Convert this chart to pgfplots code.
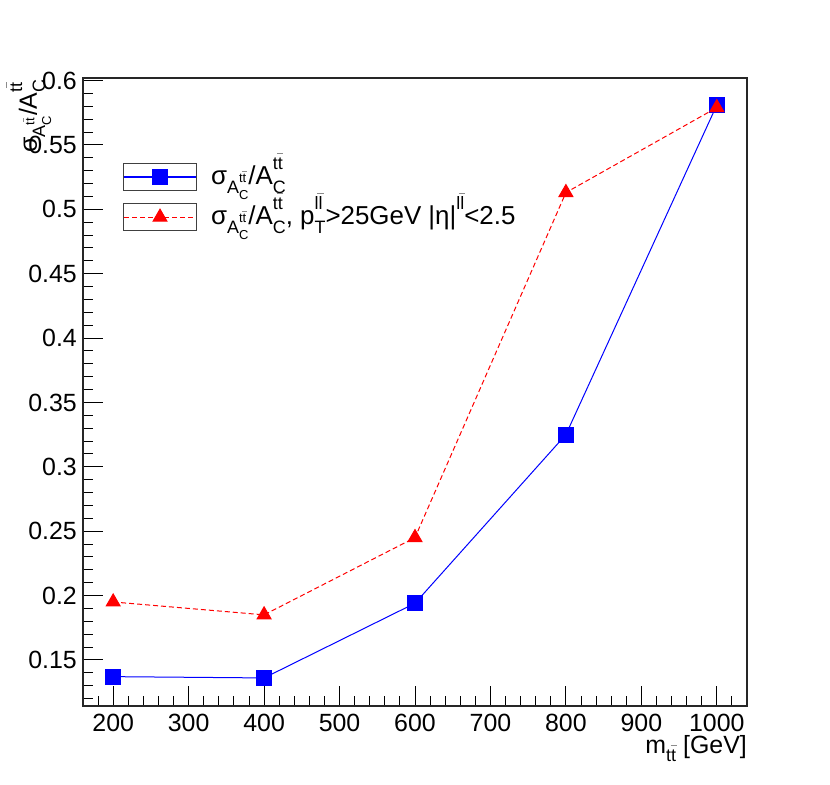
\documentclass[border=0pt]{standalone}
\usepackage{fontspec}
\setmainfont{Liberation Sans}
\usepackage{pgfplots}
\pgfplotsset{compat=1.18}
\newcommand\ovl[1]{{\setbox4\hbox{#1}\rlap{\hbox to\wd4{\hss\raise0.85em\hbox{\color{black!45}\vrule width 0.35em height 0.07em depth 0pt}\hss}}\box4}}
\newcommand\stk[3]{{%
 \setbox0\hbox{\fontsize{#1}{#1}\selectfont #2}%
 \setbox2\hbox{\fontsize{#1}{#1}\selectfont #3}%
 \dimen0=\wd0 \ifdim\wd2>\dimen0 \dimen0=\wd2 \fi
 \hbox to \dimen0{\rlap{\raise0.6em\copy0}\lower0.33em\copy2\hss}}}
\newcommand\sub[2]{\lower0.33em\hbox{\fontsize{#1}{#1}\selectfont #2}}
\newcommand\ttb{t\ovl{t}}
\newcommand\llb{l\ovl{l}}
\newcommand\mainlab{σ\sub{18}{A\stk{13}{\ttb}{C}}/A\stk{18}{\ttb}{C}}
\begin{document}
\begin{tikzpicture}
\useasboundingbox (-83bp,-79bp) rectangle (747bp,706bp);
\begin{axis}[
 at={(0,0)}, anchor=south west,
 scale only axis, width=664bp, height=628bp,
 xmin=160, xmax=1040, ymin=0.1142, ymax=0.602,
 xtick={200,300,400,500,600,700,800,900,1000},
 xticklabels={200,300,400,500,600,700,800,900,1000},
 ytick={0.15,0.2,0.25,0.3,0.35,0.4,0.45,0.5,0.55,0.6},
 yticklabels={0.15,0.2,0.25,0.3,0.35,0.4,0.45,0.5,0.55,0.6},
 minor xtick={180,220,240,260,280,320,340,360,380,420,440,460,480,520,540,560,580,620,640,660,680,720,740,760,780,820,840,860,880,920,940,960,980,1020},
 minor ytick={0.12,0.13,0.14,0.16,0.17,0.18,0.19,0.21,0.22,0.23,0.24,0.26,0.27,0.28,0.29,0.31,0.32,0.33,0.34,0.36,0.37,0.38,0.39,0.41,0.42,0.43,0.44,0.46,0.47,0.48,0.49,0.51,0.52,0.53,0.54,0.56,0.57,0.58,0.59},
 xtick pos=bottom, ytick pos=left,
 tick align=inside,
 major tick length=20bp, minor tick length=10bp,
 every tick/.style={black, line width=0.9bp},
 axis line style={line width=1.2bp, black!85},
 xticklabel style={inner sep=0pt, anchor=north, yshift=-8bp, font=\fontsize{25}{30}\selectfont},
 yticklabel style={inner sep=0pt, anchor=east, xshift=-6bp, font=\fontsize{25}{30}\selectfont},
 xlabel={m\sub{18}{\ttb} [GeV]},
 xlabel style={at={(axis description cs:1,0)}, anchor=base east, yshift=-47bp, inner sep=0pt, font=\fontsize{25}{30}\selectfont},
 ylabel={\mainlab},
 ylabel style={at={(axis description cs:-0.0693,0.998)}, anchor=base east, inner sep=0pt, font=\fontsize{25}{30}\selectfont},
 legend style={at={(axis description cs:0.0602,0.8646)}, anchor=north west, draw=none, fill=none, inner sep=0pt, outer sep=0pt, row sep=12bp, column sep=14bp, nodes={inner sep=0pt, anchor=west}, font=\fontsize{26}{30}\selectfont},
 legend cell align=left,
]
\addplot[color=blue, line width=1bp, mark=square*, mark size=7.5bp, mark options={solid, fill=blue},
 legend image code/.code={
   \draw[black!75, solid, line width=1.1bp] (0bp,-13.5bp) rectangle (73bp,13.5bp);
   \draw[draw=blue, solid, line width=1.3bp] (0.6bp,0bp) -- (72.4bp,0bp);
   \draw[blue, mark=square*, mark size=7.5bp, mark options={solid, fill=blue}] plot coordinates {(36.5bp,0bp)};
 }]
 coordinates {(200,0.137)(400,0.136)(600,0.194)(800,0.325)(1000,0.581)};
\addlegendentry{\raisebox{-8.5bp}[0pt][0pt]{\mainlab}}
\addplot[color=red, line width=1bp, dash pattern=on 5bp off 3bp, mark=triangle*, mark size=8bp, mark options={solid, fill=red},
 legend image code/.code={
   \draw[black!75, solid, line width=1.1bp] (0bp,-13.5bp) rectangle (73bp,13.5bp);
   \draw[draw=red, line width=1.3bp, dash pattern=on 5bp off 3bp] (0.6bp,0bp) -- (72.4bp,0bp);
   \draw[red, mark=triangle*, mark size=8bp, mark options={solid, fill=red}] plot coordinates {(36.5bp,0bp)};
 }]
 coordinates {(200,0.195)(400,0.185)(600,0.245)(800,0.513)(1000,0.579)};
\addlegendentry{\raisebox{-8.5bp}[0pt][0pt]{\mainlab, p\stk{18}{\llb}{T}>25GeV |η|\raise0.6em\hbox{\fontsize{18}{18}\selectfont\llb}<2.5}}
\end{axis}
\end{tikzpicture}
\end{document}
